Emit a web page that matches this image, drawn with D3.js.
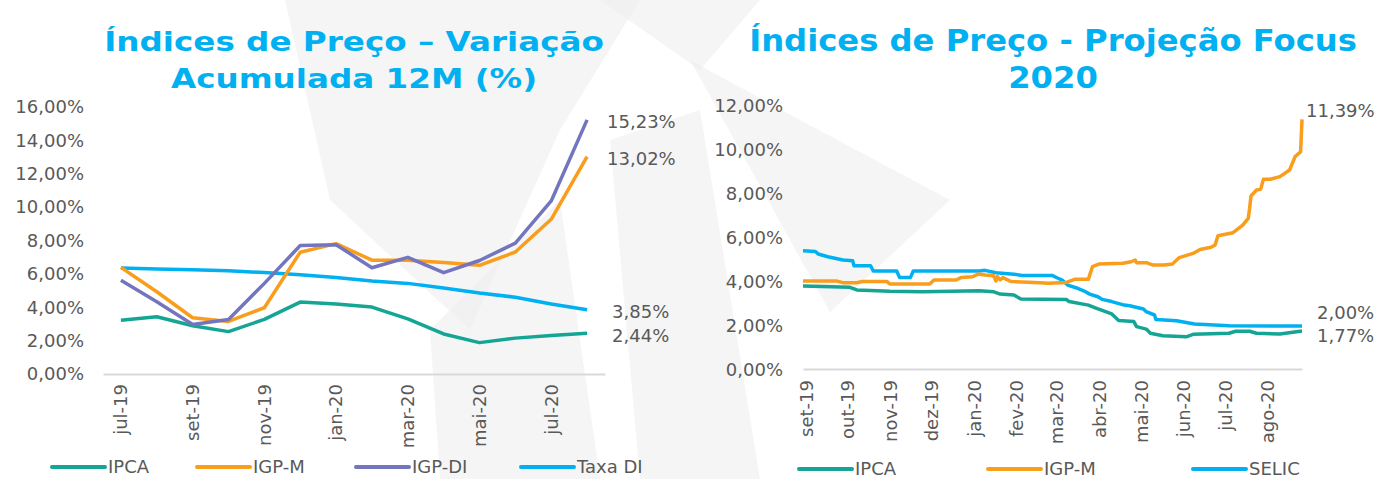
<!DOCTYPE html>
<html>
<head>
<meta charset="utf-8">
<script src="https://cdn.jsdelivr.net/npm/d3@7"></script>
<style>
  html, body { margin: 0; padding: 0; background: #fff; }
  svg { display: block; font-family: "DejaVu Sans", Verdana, sans-serif; }
</style>
</head>
<body>
<svg id="chart" width="1381" height="479"></svg>
<script>
// ---- left chart: 12 month accumulated change (%)
const months12 = ["jul-19", "ago-19", "set-19", "out-19", "nov-19", "dez-19", "jan-20",
  "fev-20", "mar-20", "abr-20", "mai-20", "jun-20", "jul-20", "ago-20"];
const ipca12 = [3.22, 3.43, 2.89, 2.54, 3.27, 4.31, 4.19, 4.01, 3.30, 2.40, 1.88, 2.15, 2.31, 2.44];
const igpm12 = [6.39, 4.93, 3.37, 3.15, 3.97, 7.30, 7.81, 6.82, 6.81, 6.68, 6.51, 7.31, 9.27, 13.02];
const igpdi12 = [5.62, 4.33, 2.97, 3.27, 5.43, 7.70, 7.75, 6.37, 6.99, 6.07, 6.80, 7.84, 10.37, 15.23];
const taxaDI12 = [6.35, 6.29, 6.25, 6.18, 6.08, 5.95, 5.78, 5.58, 5.43, 5.15, 4.85, 4.60, 4.20, 3.85];
const leftTicks = [0, 2, 4, 6, 8, 10, 12, 14, 16];

// ---- right chart: Focus projection for 2020 (%)
const focusIpca = [
  ["2019-08-30", 3.82], ["2019-10-03", 3.76], ["2019-10-08", 3.64], ["2019-11-01", 3.58],
  ["2019-11-25", 3.56], ["2020-01-05", 3.60], ["2020-01-15", 3.56], ["2020-01-20", 3.45],
  ["2020-01-30", 3.41], ["2020-02-04", 3.23], ["2020-03-08", 3.21], ["2020-03-10", 3.11],
  ["2020-03-24", 2.95], ["2020-03-30", 2.80], ["2020-04-10", 2.55], ["2020-04-15", 2.25],
  ["2020-04-26", 2.20], ["2020-04-28", 1.97], ["2020-05-05", 1.86], ["2020-05-08", 1.67],
  ["2020-05-17", 1.56], ["2020-06-03", 1.51], ["2020-06-08", 1.62], ["2020-07-04", 1.67],
  ["2020-07-09", 1.76], ["2020-07-19", 1.76], ["2020-07-24", 1.67], ["2020-08-10", 1.64],
  ["2020-08-26", 1.77]
];
const focusIgpm = [
  ["2019-08-30", 4.05], ["2019-09-23", 4.05], ["2019-09-28", 3.97], ["2019-10-08", 3.97],
  ["2019-10-12", 4.02], ["2019-10-30", 4.02], ["2019-11-01", 3.91], ["2019-11-30", 3.91],
  ["2019-12-03", 4.09], ["2019-12-19", 4.09], ["2019-12-23", 4.21], ["2019-12-31", 4.24],
  ["2020-01-04", 4.36], ["2020-01-09", 4.32], ["2020-01-15", 4.30], ["2020-01-17", 4.05],
  ["2020-01-18", 4.25], ["2020-01-20", 4.10], ["2020-01-22", 4.20], ["2020-01-28", 4.02],
  ["2020-02-18", 3.97], ["2020-02-24", 3.94], ["2020-03-08", 3.98], ["2020-03-14", 4.12],
  ["2020-03-24", 4.12], ["2020-03-27", 4.70], ["2020-04-01", 4.82], ["2020-04-18", 4.85],
  ["2020-04-24", 4.92], ["2020-04-27", 5.00], ["2020-04-28", 4.88], ["2020-05-05", 4.88],
  ["2020-05-10", 4.77], ["2020-05-18", 4.77], ["2020-05-24", 4.82], ["2020-05-29", 5.11],
  ["2020-06-08", 5.30], ["2020-06-13", 5.48], ["2020-06-21", 5.58], ["2020-06-24", 5.68],
  ["2020-06-26", 6.10], ["2020-07-07", 6.24], ["2020-07-14", 6.59], ["2020-07-18", 6.89],
  ["2020-07-19", 7.35], ["2020-07-20", 7.91], ["2020-07-24", 8.18], ["2020-07-27", 8.21],
  ["2020-07-29", 8.67], ["2020-08-03", 8.67], ["2020-08-10", 8.79], ["2020-08-17", 9.09],
  ["2020-08-21", 9.70], ["2020-08-25", 9.92], ["2020-08-26", 11.39]
];
const focusSelic = [
  ["2019-08-30", 5.42], ["2019-09-08", 5.39], ["2019-09-10", 5.27], ["2019-09-17", 5.15],
  ["2019-09-28", 5.00], ["2019-10-05", 4.97], ["2019-10-06", 4.74], ["2019-10-18", 4.74],
  ["2019-10-20", 4.50], ["2019-11-06", 4.50], ["2019-11-08", 4.21], ["2019-11-16", 4.21],
  ["2019-11-18", 4.50], ["2020-01-05", 4.50], ["2020-01-09", 4.53], ["2020-01-17", 4.42],
  ["2020-01-30", 4.35], ["2020-02-05", 4.30], ["2020-02-27", 4.29], ["2020-03-02", 4.17],
  ["2020-03-05", 4.09], ["2020-03-09", 3.86], ["2020-03-15", 3.74], ["2020-03-21", 3.59],
  ["2020-03-25", 3.45], ["2020-03-31", 3.33], ["2020-04-03", 3.21], ["2020-04-10", 3.11],
  ["2020-04-19", 2.95], ["2020-04-23", 2.92], ["2020-05-03", 2.77], ["2020-05-05", 2.65],
  ["2020-05-11", 2.50], ["2020-05-12", 2.30], ["2020-05-27", 2.24], ["2020-06-09", 2.09],
  ["2020-07-04", 2.01], ["2020-08-26", 2.00]
];
const rightTicks = [0, 2, 4, 6, 8, 10, 12];
const monthNames = ["jan", "fev", "mar", "abr", "mai", "jun", "jul", "ago", "set", "out", "nov", "dez"];

const svg = d3.select("#chart");
const textGray = "#595959";
const axisGray = "#d9d9d9";
const titleBlue = "#00b0f0";
const colors = { ipca: "#14a595", igpm: "#f99d1c", igpdi: "#7376be", di: "#00b0f0" };
const fontSize = 18;

const pt = d3.formatLocale({ decimal: ",", thousands: ".", grouping: [3], currency: ["R$", ""] });
const pct = v => pt.format(".2f")(v) + "%";
const parse = d3.timeParse("%Y-%m-%d");

// faint watermark blades behind the charts
const blades = [
  [[285, 0], [640, 0], [560, 130], [470, 330], [330, 200]],
  [[430, 330], [560, 200], [600, 479], [440, 479]],
  [[690, 60], [800, 120], [950, 200], [830, 312]],
  [[610, 140], [700, 110], [760, 479], [640, 479]],
  [[600, 0], [760, 0], [700, 70]]
];
svg.append("g").selectAll("path").data(blades).join("path")
  .attr("d", d => d3.line()(d) + "Z")
  .attr("fill", "#eeeef0")
  .attr("opacity", 0.6);

// ---------- titles
function fitTitle(lines, cx, baselines, fs, targetW) {
  const g = svg.append("g")
    .attr("font-family", "'DejaVu Sans', Verdana, sans-serif")
    .attr("font-weight", "bold")
    .attr("font-size", fs)
    .attr("fill", titleBlue)
    .attr("text-anchor", "middle");
  const t = lines.map((s, i) => g.append("text").attr("y", baselines[i]).text(s));
  const sx = targetW / t[0].node().getComputedTextLength();
  t.forEach(n => n.attr("transform", `translate(${cx},0) scale(${sx},1)`));
}
fitTitle(["Índices de Preço – Variação", "Acumulada 12M (%)"], 354, [51, 88], 27, 500);
fitTitle(["Índices de Preço - Projeção Focus", "2020"], 1053, [51, 88], 31, 608);

// ---------- left chart
const xL = d3.scaleBand().domain(months12).range([103, 605]);
const yL = d3.scaleLinear().domain([0, 16]).range([374, 107]);
const cxL = m => xL(m) + xL.bandwidth() / 2;

const gyL = svg.append("g").attr("transform", "translate(103,0)")
  .call(d3.axisLeft(yL).tickValues(leftTicks).tickSize(0).tickPadding(19).tickFormat(pct));
gyL.select(".domain").remove();

const gxL = svg.append("g").attr("transform", "translate(0,374)")
  .call(d3.axisBottom(xL).tickValues(months12.filter((m, i) => i % 2 === 0)).tickSize(0).tickSizeOuter(0));
gxL.select(".domain").attr("stroke", axisGray).attr("stroke-width", 2);
gxL.selectAll(".tick text")
  .attr("transform", "rotate(-90)")
  .attr("x", -10).attr("y", 0).attr("dy", "0.35em")
  .attr("text-anchor", "end");

const leftSeries = [
  { key: "di", name: "Taxa DI", values: taxaDI12, dx: 25 },
  { key: "ipca", name: "IPCA", values: ipca12, dx: 25 },
  { key: "igpm", name: "IGP-M", values: igpm12, dx: 20 },
  { key: "igpdi", name: "IGP-DI", values: igpdi12, dx: 20 }
];
const lineL = d3.line().x((d, i) => cxL(months12[i])).y(d => yL(d));
svg.append("g").selectAll("path").data(leftSeries).join("path")
  .attr("d", d => lineL(d.values))
  .attr("fill", "none")
  .attr("stroke", d => colors[d.key])
  .attr("stroke-width", 3.5)
  .attr("stroke-linejoin", "round");

svg.append("g").selectAll("text").data(leftSeries).join("text")
  .attr("x", d => cxL(months12[months12.length - 1]) + d.dx)
  .attr("y", d => yL(d.values[d.values.length - 1]) + 2)
  .attr("dy", "0.35em")
  .attr("font-size", fontSize)
  .attr("fill", textGray)
  .text(d => pct(d.values[d.values.length - 1]));

// ---------- right chart
const xR = d3.scaleTime().domain([parse("2019-08-30"), parse("2020-08-26")]).range([803, 1302]);
const yR = d3.scaleLinear().domain([0, 12]).range([370, 106]);

const gyR = svg.append("g").attr("transform", "translate(803,0)")
  .call(d3.axisLeft(yR).tickValues(rightTicks).tickSize(0).tickPadding(20).tickFormat(pct));
gyR.select(".domain").remove();

const gxR = svg.append("g").attr("transform", "translate(0,369)")
  .call(d3.axisBottom(xR).ticks(d3.timeMonth.every(1)).tickSize(0).tickSizeOuter(0)
    .tickFormat(d => monthNames[d.getMonth()] + "-" + String(d.getFullYear()).slice(2)));
gxR.select(".domain").attr("stroke", axisGray).attr("stroke-width", 2);
gxR.selectAll(".tick text")
  .attr("transform", "rotate(-90)")
  .attr("x", -11).attr("y", 0).attr("dy", "0.35em")
  .attr("text-anchor", "end");

[gyL, gxL, gyR, gxR].forEach(g => g.selectAll(".tick text")
  .attr("font-size", fontSize).attr("font-family", "'DejaVu Sans', Verdana, sans-serif").attr("fill", textGray));

const rightSeries = [
  { key: "di", name: "SELIC", values: focusSelic, dx: 15, dy: -13 },
  { key: "ipca", name: "IPCA", values: focusIpca, dx: 15, dy: 5 },
  { key: "igpm", name: "IGP-M", values: focusIgpm, dx: 4, dy: -9 }
];
const lineR = d3.line().x(d => xR(parse(d[0]))).y(d => yR(d[1]));
svg.append("g").selectAll("path").data(rightSeries).join("path")
  .attr("d", d => lineR(d.values))
  .attr("fill", "none")
  .attr("stroke", d => colors[d.key])
  .attr("stroke-width", 3.5)
  .attr("stroke-linejoin", "round");

svg.append("g").selectAll("text").data(rightSeries).join("text")
  .attr("x", d => xR(parse(d.values[d.values.length - 1][0])) + d.dx)
  .attr("y", d => yR(d.values[d.values.length - 1][1]) + d.dy)
  .attr("dy", "0.35em")
  .attr("font-size", fontSize)
  .attr("fill", textGray)
  .text(d => pct(d.values[d.values.length - 1][1]));

// ---------- legends
function legend(items, xs, y) {
  const g = svg.append("g").selectAll("g").data(items).join("g")
    .attr("transform", (d, i) => `translate(${xs[i]},${y})`);
  g.append("line").attr("x1", 0).attr("x2", 53)
    .attr("stroke", d => colors[d.key]).attr("stroke-width", 4).attr("stroke-linecap", "round");
  g.append("text").attr("x", 56).attr("dy", "0.35em")
    .attr("font-size", fontSize).attr("fill", textGray).text(d => d.name);
}
legend([leftSeries[1], leftSeries[2], leftSeries[3], leftSeries[0]], [52, 197, 356, 521], 467);
legend([rightSeries[1], rightSeries[2], rightSeries[0]], [799, 988, 1193], 469);
</script>
</body>
</html>
